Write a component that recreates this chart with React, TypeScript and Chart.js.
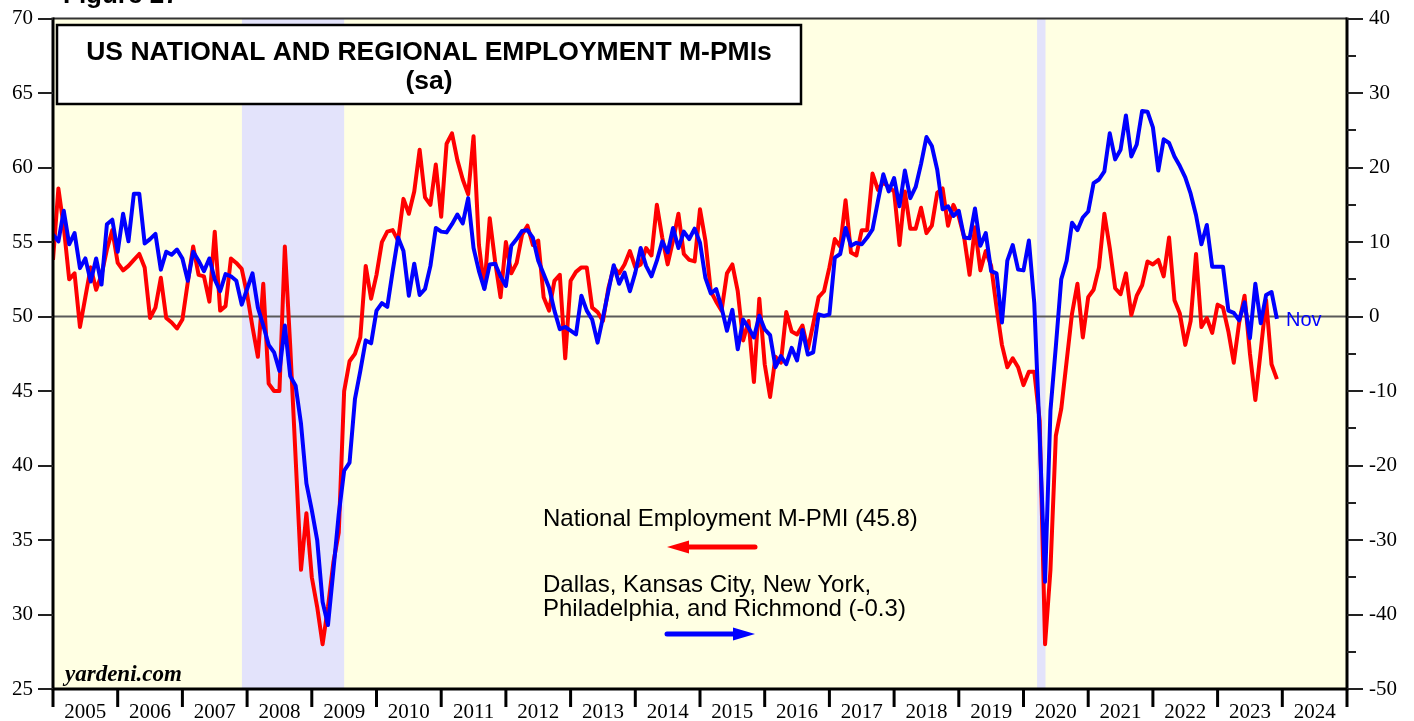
import { useEffect, useRef } from "react";
import { Chart, registerables } from "chart.js";
Chart.register(...registerables);

// Monthly data, Dec 2004 .. Nov 2023 (plotted at month-end)
const FIRST_X = 2005; // month-end of Dec 2004
const national = [
  53.8, 58.6, 56.0, 52.5, 52.9, 49.3, 51.3, 53.3, 51.8, 52.8, 54.5, 55.8,
  53.6, 53.1, 53.4, 53.8, 54.2, 53.3, 49.9, 50.6, 52.6, 49.9, 49.6, 49.2,
  49.8, 52.3, 54.7, 52.8, 52.7, 51.0, 55.7, 50.4, 50.7, 53.9, 53.6, 53.2,
  51.5, 49.3, 47.3, 52.2, 45.5, 45.0, 45.0, 54.7, 48.0, 40.5, 33.0, 36.8,
  32.5, 30.5, 28.0, 30.5, 33.5, 35.5, 45.0, 47.0, 47.5, 48.6, 53.4, 51.2,
  52.8, 55.0, 55.7, 55.8, 55.1, 57.9, 56.9, 58.4, 61.2, 58.0, 57.5, 60.2,
  56.7, 61.6, 62.3, 60.5, 59.2, 58.2, 62.1, 54.8, 51.9, 56.6, 53.7, 51.3,
  55.0, 52.9, 53.6, 55.5, 56.1, 54.8, 55.1, 51.3, 50.4, 52.4, 52.8, 47.2,
  52.4, 53.0, 53.3, 53.3, 50.6, 50.3, 49.7, 51.9, 53.3, 52.9, 53.5, 54.4,
  53.3, 53.5, 54.6, 54.1, 57.5, 55.3, 53.5, 55.1, 56.9, 54.2, 53.8, 53.7,
  57.2, 55.1, 51.7, 51.0, 50.4, 52.9, 53.5, 51.7, 48.4, 49.7, 45.6, 51.2,
  46.8, 44.6, 47.3, 46.9, 50.3, 49.0, 48.8, 49.4, 47.8, 49.5, 51.3, 51.7,
  53.3, 55.2, 54.7, 57.8, 54.3, 54.1, 55.8, 55.8, 59.6, 58.5, 59.0, 58.7,
  58.4, 54.8, 58.4, 55.9, 55.9, 57.3, 55.6, 56.1, 58.3, 58.6, 56.1, 57.5,
  56.7, 55.3, 52.8, 56.0, 53.1, 54.4, 53.4, 50.6, 48.1, 46.6, 47.2, 46.6,
  45.4, 46.3, 46.3, 43.0, 28.0, 33.0, 42.0, 43.8, 47.0, 50.2, 52.2, 48.6,
  51.3, 51.8, 53.3, 56.9, 54.6, 51.9, 51.5, 52.9, 50.1, 51.4, 52.1, 53.7,
  53.5, 53.8, 52.7, 55.3, 51.1, 50.2, 48.1, 49.7, 54.2, 49.3, 49.9, 48.9,
  50.8, 50.6, 49.0, 46.9, 49.6, 51.4, 47.5, 44.4, 47.7, 51.1, 46.8, 45.8,
];
const regional = [
  11.0, 10.1, 14.2, 9.7, 11.2, 6.5, 7.8, 4.7, 7.8, 4.3, 12.4, 13.0,
  8.7, 13.8, 10.1, 16.5, 16.5, 9.8, 10.4, 11.1, 6.3, 8.7, 8.3, 9.0,
  7.8, 4.8, 8.7, 7.5, 6.1, 7.8, 5.0, 3.4, 5.7, 5.4, 4.8, 1.6,
  3.7, 5.8, 1.2, -1.2, -3.8, -4.8, -7.3, -1.2, -8.0, -9.3, -14.4, -22.4,
  -26.0, -30.0, -38.3, -41.4, -34.1, -26.5, -20.7, -19.6, -11.1, -7.3, -3.2, -3.6,
  0.8, 1.8, 1.3, 6.1, 10.6, 8.8, 2.8, 7.1, 2.9, 3.7, 6.8, 11.9,
  11.4, 11.3, 12.4, 13.7, 12.5, 15.9, 9.2, 6.1, 3.7, 7.0, 7.1, 5.4,
  4.1, 9.5, 10.4, 11.5, 11.6, 10.6, 7.5, 5.7, 3.9, 0.8, -1.7, -1.4,
  -1.9, -2.4, 2.8, 0.8, -0.4, -3.5, -0.1, 3.4, 6.9, 4.4, 5.9, 3.4,
  5.9, 9.2, 6.8, 5.4, 7.5, 10.1, 8.6, 11.9, 9.2, 11.4, 10.4, 11.8,
  9.9, 5.2, 3.1, 3.7, 1.2, -1.9, 0.9, -4.4, -0.4, -1.5, -2.8, 0.1,
  -1.7, -2.5, -6.8, -5.3, -6.4, -4.2, -5.9, -1.8, -5.1, -4.8, 0.3, 0.1,
  0.3, 7.9, 8.4, 11.9, 9.5, 9.9, 9.7, 10.6, 11.7, 15.5, 19.1, 16.8,
  18.6, 14.8, 19.6, 15.9, 17.4, 20.5, 24.1, 22.9, 19.7, 14.4, 14.8, 13.5,
  14.2, 10.6, 10.5, 14.5, 9.5, 11.2, 6.1, 5.8, -0.8, 7.5, 9.6, 6.3,
  6.2, 10.2, 1.8, -16.0, -35.6, -12.6, -4.0, 5.0, 7.5, 12.6, 11.6, 13.3,
  14.1, 17.9, 18.4, 19.5, 24.6, 21.1, 22.4, 27.0, 21.5, 23.1, 27.6, 27.5,
  25.4, 19.6, 23.8, 23.3, 21.5, 20.2, 18.7, 16.5, 13.6, 9.7, 12.3, 6.7,
  6.7, 6.7, 0.8, 0.5, -0.5, 1.9, -2.9, 4.4, -0.9, 2.9, 3.3, -0.3,
];
const yearLabels = [
  "2005", "2006", "2007", "2008", "2009", "2010", "2011", "2012", "2013", "2014",
  "2015", "2016", "2017", "2018", "2019", "2020", "2021", "2022", "2023", "2024",
];
const recessions = [
  [2007.92, 2009.5],
  [2020.21, 2020.34],
];
const titleLines = ["US NATIONAL AND REGIONAL EMPLOYMENT M-PMIs", "(sa)"];
const nationalLabel = ["National Employment M-PMI (45.8)"];
const regionalLabel = ["Dallas, Kansas City, New York,", "Philadelphia, and Richmond (-0.3)"];

const SERIF = "'Liberation Serif', 'Times New Roman', serif";
const SANS = "'Liberation Sans', Arial, sans-serif";

function arrow(ctx: CanvasRenderingContext2D, x0: number, x1: number, y: number, color: string, dir: number) {
  ctx.save();
  ctx.strokeStyle = color;
  ctx.fillStyle = color;
  ctx.lineWidth = 5;
  ctx.lineCap = "round";
  const head = 22;
  ctx.beginPath();
  if (dir < 0) {
    ctx.moveTo(x0 + head - 2, y);
    ctx.lineTo(x1, y);
  } else {
    ctx.moveTo(x0, y);
    ctx.lineTo(x1 - head + 2, y);
  }
  ctx.stroke();
  ctx.beginPath();
  if (dir < 0) {
    ctx.moveTo(x0, y);
    ctx.lineTo(x0 + head, y - 6.5);
    ctx.lineTo(x0 + head, y + 6.5);
  } else {
    ctx.moveTo(x1, y);
    ctx.lineTo(x1 - head, y - 6.5);
    ctx.lineTo(x1 - head, y + 6.5);
  }
  ctx.closePath();
  ctx.fill();
  ctx.restore();
}

const decor = {
  id: "decor",
  beforeDraw(chart: any) {
    const { ctx, chartArea: a, scales } = chart;
    ctx.save();
    ctx.fillStyle = "#ffffff";
    ctx.fillRect(0, 0, chart.width, chart.height);
    ctx.fillStyle = "#FFFFE3";
    ctx.fillRect(a.left, a.top, a.right - a.left, a.bottom - a.top);
    ctx.fillStyle = "#E3E3FB";
    recessions.forEach(([s, e]) => {
      const x0 = scales.x.getPixelForValue(s);
      const x1 = scales.x.getPixelForValue(e);
      ctx.fillRect(x0, a.top, x1 - x0, a.bottom - a.top);
    });
    ctx.restore();
  },
  beforeDatasetsDraw(chart: any) {
    const { ctx, chartArea: a, scales } = chart;
    const y = scales.y.getPixelForValue(50);
    ctx.save();
    ctx.strokeStyle = "#5a5a5a";
    ctx.lineWidth = 2;
    ctx.beginPath();
    ctx.moveTo(a.left, y);
    ctx.lineTo(a.right, y);
    ctx.stroke();
    ctx.restore();
  },
  afterDraw(chart: any) {
    const { ctx, chartArea: a, scales } = chart;
    const xs = scales.x, yl = scales.y, yr = scales.y2;
    ctx.save();
    // frame
    ctx.strokeStyle = "#333";
    ctx.lineWidth = 2;
    ctx.beginPath();
    ctx.moveTo(a.left, a.top);
    ctx.lineTo(a.right, a.top);
    ctx.stroke();
    ctx.strokeStyle = "#000";
    ctx.lineWidth = 3;
    ctx.beginPath();
    ctx.moveTo(a.left, a.top - 1);
    ctx.lineTo(a.left, a.bottom);
    ctx.lineTo(a.right, a.bottom);
    ctx.lineTo(a.right, a.top - 1);
    ctx.stroke();
    // left ticks
    ctx.lineWidth = 2;
    ctx.strokeStyle = "#222";
    for (let v = 25; v <= 70; v += 5) {
      const y = Math.round(yl.getPixelForValue(v));
      ctx.beginPath();
      ctx.moveTo(a.left - 15, y);
      ctx.lineTo(a.left, y);
      ctx.stroke();
    }
    // right ticks
    for (let v = -50; v <= 40; v += 5) {
      const y = Math.round(yr.getPixelForValue(v));
      const len = v % 10 === 0 ? 16 : 9;
      ctx.beginPath();
      ctx.moveTo(a.right, y);
      ctx.lineTo(a.right + len, y);
      ctx.stroke();
    }
    // bottom ticks + year labels
    ctx.strokeStyle = "#000";
    ctx.lineWidth = 3;
    for (let i = 0; i <= yearLabels.length; i++) {
      const x = xs.getPixelForValue(2005 + i);
      ctx.beginPath();
      ctx.moveTo(x, a.bottom);
      ctx.lineTo(x, a.bottom + 18);
      ctx.stroke();
    }
    ctx.fillStyle = "#000";
    ctx.font = `21px ${SERIF}`;
    ctx.textAlign = "center";
    ctx.textBaseline = "alphabetic";
    yearLabels.forEach((lab, i) => {
      ctx.fillText(lab, xs.getPixelForValue(2005 + i + 0.5), 718);
    });
    // title box
    ctx.fillStyle = "#fff";
    ctx.fillRect(57, 25, 744, 79);
    ctx.strokeStyle = "#000";
    ctx.lineWidth = 2.5;
    ctx.strokeRect(57, 25, 744, 79);
    ctx.fillStyle = "#000";
    ctx.font = `bold 26.5px ${SANS}`;
    ctx.textAlign = "center";
    ctx.fillText(titleLines[0], 429, 60);
    ctx.fillText(titleLines[1], 429, 89);
    // figure caption (cut off)
    ctx.textAlign = "left";
    ctx.font = `bold 26px ${SANS}`;
    ctx.fillText("Figure 27", 63, 3);
    // annotations
    ctx.font = `24px ${SANS}`;
    ctx.fillStyle = "#000";
    ctx.fillText(nationalLabel[0], 543, 526);
    ctx.fillText(regionalLabel[0], 543, 592);
    ctx.fillText(regionalLabel[1], 543, 616);
    arrow(ctx, 667, 755, 547, "#FF0000", -1);
    arrow(ctx, 667, 755, 634, "#0000FF", 1);
    // Nov label
    ctx.fillStyle = "#0000FF";
    ctx.font = `20px ${SANS}`;
    ctx.fillText("Nov", 1286, 326);
    // source
    ctx.fillStyle = "#000";
    ctx.font = `italic bold 23px ${SERIF}`;
    ctx.fillText("yardeni.com", 65, 681);
    ctx.restore();
  },
};

export default function App() {
  const ref = useRef<HTMLCanvasElement | null>(null);
  useEffect(() => {
    if (!ref.current) return;
    const xs = national.map((_, k) => FIRST_X + k / 12);
    const chart = new Chart(ref.current, {
      type: "line",
      data: {
        datasets: [
          {
            label: "Regional",
            data: regional.map((v, k) => ({ x: xs[k], y: v })),
            yAxisID: "y2",
            borderColor: "#0000FF",
            borderWidth: 4,
            pointRadius: 0,
            tension: 0,
            borderJoinStyle: "round",
            order: 0,
          },
          {
            label: "National",
            data: national.map((v, k) => ({ x: xs[k], y: v })),
            yAxisID: "y",
            borderColor: "#FF0000",
            borderWidth: 4,
            pointRadius: 0,
            tension: 0,
            borderJoinStyle: "round",
            order: 1,
          },
        ],
      },
      options: {
        animation: false,
        responsive: false,
        maintainAspectRatio: false,
        layout: { padding: { top: 17, left: 0, right: 0, bottom: 0 } },
        plugins: { legend: { display: false }, tooltip: { enabled: false } },
        scales: {
          x: {
            type: "linear",
            min: 2005,
            max: 2025,
            ticks: { display: false },
            grid: { display: false },
            border: { display: false },
            afterFit: (s: any) => { s.height = 32; },
          },
          y: {
            position: "left",
            min: 25,
            max: 70,
            ticks: { stepSize: 5, color: "#000", font: { family: SERIF, size: 21 }, padding: 5 },
            grid: { drawOnChartArea: false, tickLength: 15, color: "rgba(0,0,0,0)" },
            border: { display: false },
            afterFit: (s: any) => { s.width = 53; },
          },
          y2: {
            position: "right",
            min: -50,
            max: 40,
            ticks: {
              stepSize: 5,
              color: "#000",
              font: { family: SERIF, size: 21 },
              padding: 6,
              callback: (v: any) => (Number(v) % 10 === 0 ? String(v) : ""),
            },
            grid: { drawOnChartArea: false, tickLength: 16, color: "rgba(0,0,0,0)" },
            border: { display: false },
            afterFit: (s: any) => { s.width = 67; },
          },
        },
      },
      plugins: [decor],
    });
    return () => chart.destroy();
  }, []);
  return (
    <div style={{ position: "absolute", left: 0, top: 0, width: 1414, height: 721, background: "#fff" }}>
      <canvas ref={ref} width={1414} height={721} style={{ display: "block", width: 1414, height: 721 }} />
    </div>
  );
}
